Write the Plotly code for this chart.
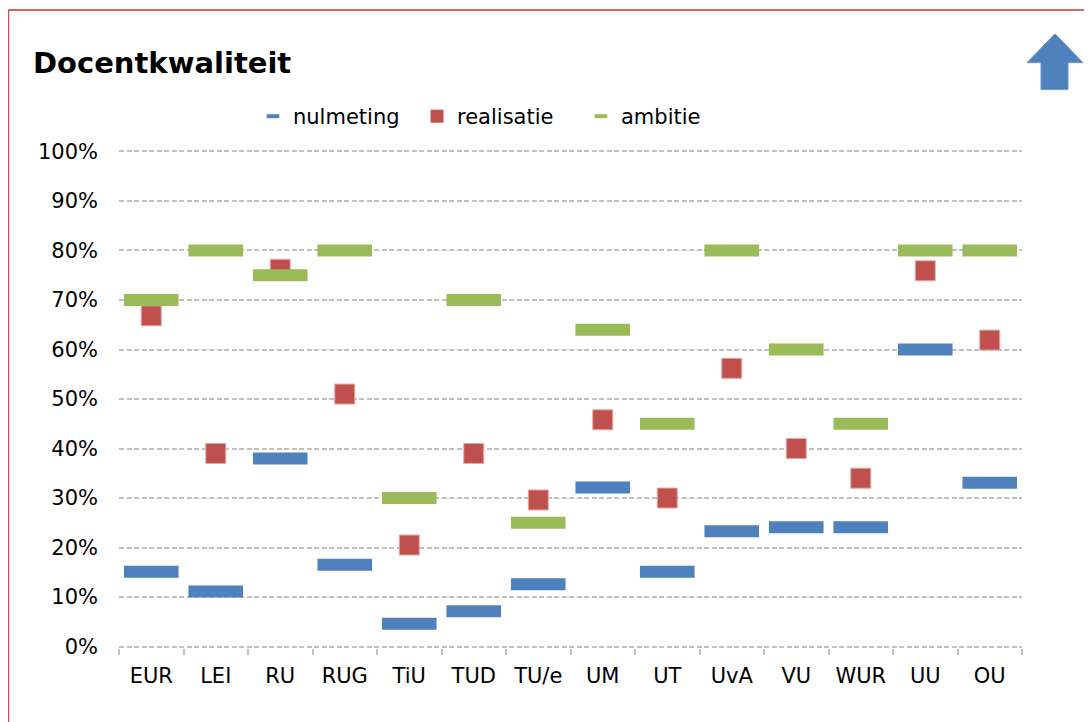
import plotly.graph_objects as go

categories = ["EUR", "LEI", "RU", "RUG", "TiU", "TUD", "TU/e", "UM", "UT", "UvA", "VU", "WUR", "UU", "OU"]
nulmeting = [15.1, 11.1, 38.0, 16.5, 4.6, 7.1, 12.6, 32.1, 15.1, 23.3, 24.1, 24.1, 60.0, 33.1]
realisatie = [66.8, 39.0, 76.2, 51.0, 20.5, 39.0, 29.6, 45.8, 30.0, 56.2, 40.0, 34.0, 75.9, 61.9]
ambitie = [70, 80, 75, 80, 30, 70, 25, 64, 45, 80, 60, 45, 80, 80]
y_ticks = [0, 10, 20, 30, 40, 50, 60, 70, 80, 90, 100]
y_tick_labels = [f"{v}%" for v in y_ticks]

# page has an 8px body margin; work in screen pixels and convert
OFF = 8
W, H = 1092 - OFF, 722 - OFF
L, R = 119, 1022          # plot area x in screen pixels
Y100, Y0 = 151, 647       # screen y of 100% and 0%
PAD = 0.3                 # small range padding so edge gridlines are drawn
PPU = (Y0 - Y100) / 100.0
T = Y100 - PAD * PPU
B = Y0 + PAD * PPU
FONT = "DejaVu Sans"

BLUE = "#4F81BD"
RED = "#C0504D"
GREEN = "#9BBB59"


def px(x):
    return (x - L) / (R - L)


def py(y):
    return (B - y) / (B - T)


fig = go.Figure()
fig.add_trace(go.Scatter(
    x=categories, y=nulmeting, mode="markers", name="nulmeting", showlegend=False,
    legendgroup="n",
    marker=dict(symbol="line-ew-open", size=39, color=BLUE,
                line=dict(width=12, color=BLUE)),
))
fig.add_trace(go.Scatter(
    x=categories, y=realisatie, mode="markers", name="realisatie", showlegend=False,
    legendgroup="r",
    marker=dict(symbol="square", size=20, color=RED,
                line=dict(width=1, color="#E3A9A7")),
))
fig.add_trace(go.Scatter(
    x=categories, y=ambitie, mode="markers", name="ambitie", showlegend=False,
    legendgroup="a",
    marker=dict(symbol="line-ew-open", size=39, color=GREEN,
                line=dict(width=12, color=GREEN)),
))
# legend entries (smaller symbols like the reference legend)
fig.add_trace(go.Scatter(x=[None], y=[None], mode="markers", name="nulmeting", legendgroup="n",
                         marker=dict(symbol="line-ew-open", size=9, color=BLUE,
                                     line=dict(width=4, color=BLUE))))
fig.add_trace(go.Scatter(x=[None], y=[None], mode="markers", name="realisatie", legendgroup="r",
                         marker=dict(symbol="square", size=13, color=RED,
                                     line=dict(width=0))))
fig.add_trace(go.Scatter(x=[None], y=[None], mode="markers", name="ambitie", legendgroup="a",
                         marker=dict(symbol="line-ew-open", size=9, color=GREEN,
                                     line=dict(width=4, color=GREEN))))

shapes = [
    # red frame (left and top)
    dict(type="line", xref="paper", yref="paper", x0=px(8.5), x1=px(8.5),
         y0=py(9.3), y1=py(740), line=dict(color="#D0504D", width=1.5)),
    dict(type="line", xref="paper", yref="paper", x0=px(8.5), x1=px(1110),
         y0=py(9.3), y1=py(9.3), line=dict(color="#C0392B", width=1.5)),
]
arrow_pts = [(1055, 33), (1083, 62), (1068, 62), (1068, 89), (1041, 89), (1041, 62), (1027, 62)]
path = "M " + " L ".join(f"{px(x):.5f},{py(y):.5f}" for x, y in arrow_pts) + " Z"
shapes.append(dict(type="path", xref="paper", yref="paper", path=path,
                   fillcolor=BLUE, line=dict(color="#6F97CB", width=1)))

fig.update_layout(
    width=W, height=H,
    margin=dict(l=L - OFF, r=W - (R - OFF), t=T - OFF, b=H - (B - OFF)),
    paper_bgcolor="white", plot_bgcolor="white",
    font=dict(family=FONT, size=21, color="#000000"),
    title=dict(text="<b>Docentkwaliteit</b>", x=(33 - OFF) / W, xanchor="left",
               y=1 - (63 - OFF) / H, yanchor="middle",
               font=dict(family=FONT, size=29, color="#000000")),
    showlegend=True,
    legend=dict(orientation="h", x=px(253), xanchor="left", y=py(116), yanchor="middle",
                font=dict(family=FONT, size=21), itemsizing="trace",
                traceorder="normal", entrywidth=119, bgcolor="rgba(0,0,0,0)"),
    shapes=shapes,
    xaxis=dict(type="category", categoryorder="array", categoryarray=categories,
               range=[-0.5, len(categories) - 0.5],
               showgrid=False, showline=False, zeroline=False,
               ticks="outside", tickson="boundaries", ticklen=6, tickcolor="#C0C0C0",
               tickwidth=2, ticklabelstandoff=13,
               tickfont=dict(family=FONT, size=21, color="#000000")),
    yaxis=dict(range=[-PAD, 100 + PAD], tickvals=y_ticks, ticktext=y_tick_labels,
               showgrid=True, gridcolor="#C0C0C0", griddash="5px,2.5px", gridwidth=2,
               zeroline=False, showline=False, ticks="",
               ticklabelstandoff=20,
               tickfont=dict(family=FONT, size=21, color="#000000")),
)

fig.write_html("out.html")
